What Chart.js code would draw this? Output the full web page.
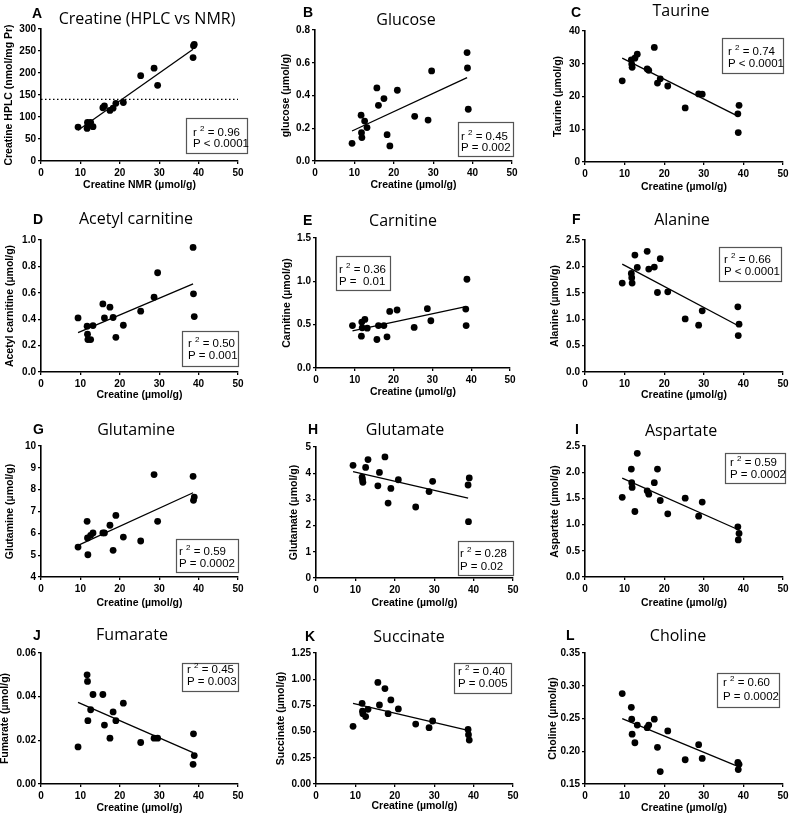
<!DOCTYPE html>
<html><head><meta charset="utf-8">
<script src="https://cdn.jsdelivr.net/npm/chart.js@4.4.0/dist/chart.umd.min.js"></script>
<style>
html,body{margin:0;padding:0;background:#fff;overflow:hidden;width:789px;height:817px;position:relative}
canvas{position:absolute}
</style></head><body>
<script>
// ---------- DATA ----------
const creatineNMR = [9.4, 11.7, 11.8, 11.9, 12.6, 13.2, 15.7, 16.1, 17.5, 18.3, 19.0, 20.9, 25.3, 28.7, 29.6, 38.6, 38.7, 38.9];
const creatineHPLC = [77, 74, 88, 82, 88, 78, 121, 125, 115, 120, 131, 133, 194, 211, 172, 235, 262, 265];
const glucose = [0.108, 0.28, 0.173, 0.143, 0.244, 0.204, 0.446, 0.34, 0.381, 0.161, 0.092, 0.432, 0.273, 0.25, 0.55, 0.662, 0.568, 0.316];
const taurine = [24.8, 31.2, 29.9, 28.9, 31.7, 32.9, 28.4, 28.0, 35.0, 24.1, 25.4, 23.2, 16.5, 20.8, 20.7, 14.7, 9.0, 17.3];
const acetylCarnitine = [0.41, 0.347, 0.286, 0.246, 0.246, 0.352, 0.516, 0.41, 0.491, 0.413, 0.263, 0.354, 0.461, 0.567, 0.752, 0.944, 0.592, 0.42];
const carnitine = [0.49, 0.367, 0.53, 0.464, 0.56, 0.46, 0.329, 0.49, 0.49, 0.36, 0.653, 0.669, 0.468, 0.684, 0.545, 0.68, 0.49, 1.024];
const alanine = [1.684, 1.867, 1.785, 1.684, 2.215, 1.981, 2.285, 1.949, 1.987, 1.506, 2.146, 1.519, 1.006, 0.886, 1.158, 1.234, 0.69, 0.905];
const glutamine = [5.37, 6.55, 5.79, 5.02, 5.91, 6.02, 6.02, 6.02, 6.37, 5.22, 6.82, 5.83, 5.65, 8.69, 6.55, 8.61, 7.51, 7.66];
const glutamate = [4.30, 3.85, 3.75, 3.65, 4.22, 4.52, 3.52, 4.03, 4.62, 2.86, 3.42, 3.75, 2.71, 3.30, 3.69, 3.55, 2.15, 3.82];
const aspartate = [1.52, 2.06, 1.80, 1.71, 1.25, 2.36, 1.645, 1.58, 1.80, 2.06, 1.46, 1.205, 1.505, 1.16, 1.43, 0.957, 0.708, 0.83];
const fumarate = [0.017, 0.050, 0.047, 0.029, 0.034, 0.041, 0.041, 0.027, 0.021, 0.033, 0.029, 0.037, 0.019, 0.021, 0.021, 0.009, 0.023, 0.013];
const succinate = [0.55, 0.77, 0.694, 0.671, 0.643, 0.713, 0.969, 0.754, 0.911, 0.671, 0.802, 0.716, 0.572, 0.537, 0.601, 0.521, 0.47, 0.419];
const choline = [0.288, 0.267, 0.249, 0.226, 0.213, 0.240, 0.236, 0.240, 0.249, 0.206, 0.169, 0.231, 0.187, 0.210, 0.189, 0.183, 0.172, 0.180];

// regression line end points at x = fitX[0], fitX[1]
const fitX = [9.4, 38.6];
const fitA = [70, 254];
const fitB = [0.183, 0.509];
const fitC = [31.7, 14.0];
const fitD = [0.299, 0.668];
const fitE = [0.429, 0.707];
const fitF = [2.044, 0.88];
const fitG = [5.45, 7.86];
const fitH = [4.06, 3.05];
const fitI = [1.888, 0.906];
const fitJ = [0.0374, 0.0144];
const fitK = [0.77, 0.512];
const fitL = [0.2497, 0.177];
const hplcThreshold = 140;

const panelLetters = ['A','B','C','D','E','F','G','H','I','J','K','L'];
const panelTitles = ['Creatine (HPLC vs NMR)','Glucose','Taurine','Acetyl carnitine','Carnitine','Alanine','Glutamine','Glutamate','Aspartate','Fumarate','Succinate','Choline'];
const yLabels = ['Creatine HPLC (nmol/mg Pr)','glucose (µmol/g)','Taurine (µmol/g)','Acetyl carnitine (µmol/g)','Carnitine (µmol/g)','Alanine (µmol/g)','Glutamine (µmol/g)','Glutamate (µmol/g)','Aspartate (µmol/g)','Fumarate (µmol/g)','Succinate (µmol/g)','Choline (µmol/g)'];
const xLabels = ['Creatine NMR (µmol/g)','Creatine (µmol/g)','Creatine (µmol/g)','Creatine (µmol/g)','Creatine (µmol/g)','Creatine (µmol/g)','Creatine (µmol/g)','Creatine (µmol/g)','Creatine (µmol/g)','Creatine (µmol/g)','Creatine (µmol/g)','Creatine (µmol/g)'];
const rSquared = ['0.96','0.45','0.74','0.50','0.36','0.66','0.59','0.28','0.59','0.45','0.40','0.60'];
const pValues = ['P < 0.0001','P = 0.002','P < 0.0001','P = 0.001','P =  0.01','P < 0.0001','P = 0.0002','P = 0.02','P = 0.0002','P = 0.003','P = 0.005','P = 0.0002'];
const xTicks = {min: 0, max: 50, step: 10};
const yMins = [0, 0, 0, 0, 0, 0, 4, 0, 0, 0, 0, 0.15];
const yMaxs = [300, 0.8, 40, 1.0, 1.5, 2.5, 10, 5, 2.5, 0.06, 1.25, 0.35];
const ySteps = [50, 0.2, 10, 0.2, 0.5, 0.5, 1, 1, 0.5, 0.02, 0.25, 0.05];
const yDecimals = [0, 1, 0, 1, 1, 1, 0, 0, 1, 2, 2, 2];

const seriesY = [creatineHPLC, glucose, taurine, acetylCarnitine, carnitine, alanine, glutamine, glutamate, aspartate, fumarate, succinate, choline];
const fits = [fitA, fitB, fitC, fitD, fitE, fitF, fitG, fitH, fitI, fitJ, fitK, fitL];

// ---------- LAYOUT (page pixel positions) ----------
// plot area L,R,T,B ; y-title centre x ; x-title centre y ; letter pos ; title centre ; stats box ; stats text
const layouts = [
 {L:41, R:238, T:29, B:161, yTx:9.5, xTy:185, let:[32,14], tit:[147,19], box:[186,118,247,153], txt:[193,132.5,143.5]},
 {L:315,R:512, T:30, B:161, yTx:286, xTy:185, let:[303,13], tit:[406,20], box:[458,122,513,156], txt:[461,136.5,148]},
 {L:585,R:783, T:31, B:162, yTx:558, xTy:187, let:[571,13], tit:[681,11], box:[722,38,783,73], txt:[728,52,63.5]},
 {L:41, R:238, T:240,B:372, yTx:10, xTy:395, let:[33,220], tit:[136,219.5], box:[182,331,238,366], txt:[188,344,356]},
 {L:316,R:510, T:238,B:368, yTx:287, xTy:392, let:[303,221], tit:[403,221.5], box:[336,256,390,290], txt:[339,270,282]},
 {L:585,R:783, T:240,B:372, yTx:555.5, xTy:395, let:[572,220], tit:[682,220], box:[719,247,781,281], txt:[724,260,272]},
 {L:41, R:238, T:446,B:577, yTx:10, xTy:602.5, let:[33,430], tit:[136,430.5], box:[176,539,238,572], txt:[179,552,564]},
 {L:316,R:513, T:447,B:578, yTx:294.5, xTy:602.5, let:[308,430], tit:[405,430.5], box:[458,541,513,575], txt:[460,554,566.5]},
 {L:585,R:783, T:446,B:577, yTx:555.5, xTy:602.5, let:[575,430], tit:[681,431], box:[725,453,785,483], txt:[730,463,475]},
 {L:41, R:238, T:653,B:784, yTx:5, xTy:808, let:[33,636], tit:[132,635.5], box:[182,663,238,691], txt:[187,670,682]},
 {L:316,R:513, T:653,B:784, yTx:281.5, xTy:806, let:[305,637], tit:[409,637], box:[454,663,511,693], txt:[458,672,684]},
 {L:585,R:783, T:653,B:784, yTx:553, xTy:808, let:[566,636], tit:[678,636], box:[717,673,779,707], txt:[723,683,696.5]}
];

const SANS = '"Liberation Sans", Arial, Helvetica, sans-serif';
Chart.defaults.font.family = SANS;
Chart.defaults.color = '#000';

const decoPlugin = {
  id: 'deco',
  afterDraw(chart, args, o) {
    const ctx = chart.ctx;
    const ox = o.ox, oy = o.oy;
    ctx.save();
    ctx.fillStyle = '#000';
    ctx.textBaseline = 'middle';
    // letter
    ctx.font = 'bold 14px ' + SANS;
    ctx.textAlign = 'left';
    ctx.fillText(o.letter, o.let[0] - ox, o.let[1] - oy);
    // title
    ctx.font = '16px "Open Sans", ' + SANS;
    ctx.textAlign = 'center';
    ctx.fillText(o.title, o.tit[0] - ox, o.tit[1] - oy);
    // stats box
    const b = o.box;
    ctx.strokeStyle = '#555';
    ctx.lineWidth = 1.2;
    ctx.strokeRect(Math.round(b[0] - ox) + 0.5, Math.round(b[1] - oy) + 0.5, b[2] - b[0], b[3] - b[1]);
    ctx.textAlign = 'left';
    const tx = o.txt[0] - ox;
    ctx.font = '11.5px ' + SANS;
    ctx.fillText('r', tx, o.txt[1] - oy);
    let w = ctx.measureText('r ').width;
    ctx.font = '8px ' + SANS;
    ctx.fillText('2', tx + w, o.txt[1] - oy - 4);
    const w2 = ctx.measureText('2').width;
    ctx.font = '11.5px ' + SANS;
    ctx.fillText(' = ' + o.r2, tx + w + w2, o.txt[1] - oy);
    ctx.fillText(o.p, tx, o.txt[2] - oy);
    ctx.restore();
  }
};
Chart.register(decoPlugin);

const axisCommon = (titleText) => ({
  type: 'linear',
  grid: {display: true, drawOnChartArea: false, drawTicks: true, tickLength: 3, color: '#000', lineWidth: 1.3},
  border: {display: true, color: '#000', width: 1.6},
  title: {display: true, text: titleText, color: '#000', font: {weight: 'bold', size: 10.5, lineHeight: 1.2}, padding: 0}
});

for (let i = 0; i < 12; i++) {
  const lay = layouts[i];
  const cl = Math.round(lay.yTx - 6.3);
  const ct = lay.T - 30;
  const cw = lay.R + 12 - cl;
  const ch = Math.round(lay.xTy + 6.3) - ct;
  const wy = lay.L - cl;
  const hx = ch - (lay.B - ct);
  const c = document.createElement('canvas');
  c.width = cw; c.height = ch;
  c.style.left = cl + 'px'; c.style.top = ct + 'px';
  c.style.width = cw + 'px'; c.style.height = ch + 'px';
  document.body.appendChild(c);

  const ys = seriesY[i];
  const datasets = [
    {data: creatineNMR.map((x, j) => ({x: x, y: ys[j]})), showLine: false, pointRadius: 3.4, pointBackgroundColor: '#000', pointBorderWidth: 0, pointBorderColor: '#000'},
    {data: [{x: fitX[0], y: fits[i][0]}, {x: fitX[1], y: fits[i][1]}], showLine: true, borderColor: '#000', borderWidth: 1.3, pointRadius: 0, fill: false}
  ];
  if (i === 0) {
    datasets.push({data: [{x: xTicks.min, y: hplcThreshold}, {x: xTicks.max, y: hplcThreshold}], showLine: true, borderColor: '#000', borderWidth: 1.2, borderDash: [1.5, 2.5], pointRadius: 0, fill: false});
  }
  const dec = yDecimals[i];
  new Chart(c, {
    type: 'scatter',
    data: {datasets},
    options: {
      responsive: false, animation: false, devicePixelRatio: 1,
      layout: {padding: {top: 30, right: 12, left: 0, bottom: 0}},
      plugins: {legend: {display: false}, tooltip: {enabled: false},
        deco: {ox: cl, oy: ct, letter: panelLetters[i], title: panelTitles[i], let: lay.let, tit: lay.tit, box: lay.box, txt: lay.txt, r2: rSquared[i], p: pValues[i]}},
      scales: {
        x: Object.assign(axisCommon(xLabels[i]), {
          min: xTicks.min, max: xTicks.max,
          afterFit: s => { s.height = hx; },
          ticks: {stepSize: xTicks.step, color: '#000', font: {weight: 'bold', size: 10}, padding: 3, maxRotation: 0, autoSkip: false}
        }),
        y: Object.assign(axisCommon(yLabels[i]), {
          min: yMins[i], max: yMaxs[i],
          afterFit: s => { s.width = wy; },
          ticks: {stepSize: ySteps[i], color: '#000', font: {weight: 'bold', size: 10}, padding: 2, autoSkip: false,
            callback: v => Number(v).toFixed(dec)}
        })
      }
    }
  });
}
</script>
</body></html>
